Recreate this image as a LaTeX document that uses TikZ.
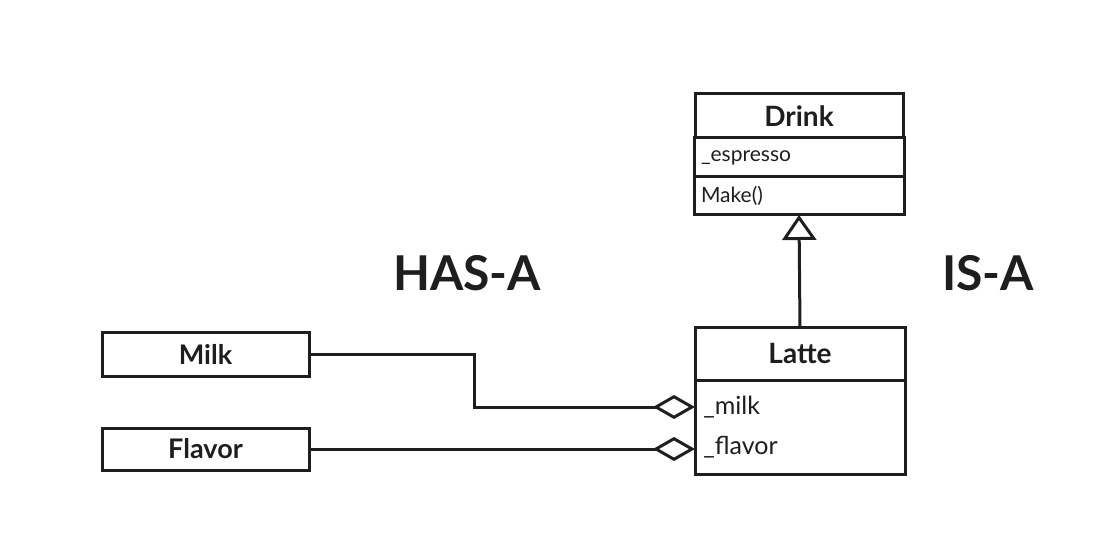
\documentclass[tikz,border=0pt]{standalone}
\usepackage{fontspec}
\setmainfont{Lato}
\usetikzlibrary{arrows.meta,positioning}
\definecolor{umlink}{HTML}{1E1E1E}
\tikzset{
  classtitle/.style={draw=umlink, line width=1.5pt, outer sep=0pt, minimum width=104pt, minimum height=22pt, font=\fontsize{14}{16}\selectfont\bfseries, text=umlink},
  classrow/.style={draw=umlink, line width=1.5pt, outer sep=0pt, text width=98pt, inner xsep=3.5pt, inner ysep=0pt, align=left, font=\fontsize{10.5}{12}\selectfont, text=umlink},
  membertext/.style={anchor=west, inner sep=0pt, font=\fontsize{12.5}{14}\selectfont, text=umlink},
  partbox/.style={draw=umlink, line width=1.5pt, outer sep=0pt, minimum width=103.5pt, minimum height=22pt, font=\fontsize{13.5}{15}\selectfont\bfseries, text=umlink},
  relbig/.style={font=\fontsize{24}{28}\selectfont\bfseries, text=umlink},
  hasarrow/.style={-{Diamond[open, length=21pt, width=12pt]}, line width=1.5pt, draw=umlink},
  isarrow/.style={-{Triangle[open, length=12.5pt, width=17pt]}, line width=1.5pt, draw=umlink}
}

\begin{document}
\begin{tikzpicture}[x=0.5pt, y=-0.5pt]
  \useasboundingbox (0,0) rectangle (1099,540);

  % base class
  \node[classtitle] (drink) at (799,116) {Drink};
  \node[classrow, minimum height=19.5pt, below=0pt of drink] (espresso) {\_espresso};
  \node[classrow, minimum height=19pt, below=0pt of espresso] (make) {Make()};

  % derived class
  \node[classtitle, minimum width=105pt, minimum height=26.5pt] (latte) at (800,353.5) {Latte};
  \node[classrow, text width=98pt, minimum height=47pt, below=0pt of latte] (latteattr) {};
  \node[membertext] (milkattr) at ([xshift=4pt,yshift=-13.5pt]latteattr.north west) {\_milk};
  \node[membertext] (flavorattr) at ([xshift=4pt,yshift=-33.5pt]latteattr.north west) {\_flavor};

  % parts
  \node[partbox] (milk) at (205.5,354) {Milk};
  \node[partbox, minimum height=21pt] (flavor) at (205.5,449) {Flavor};

  \node[relbig] (hasa) at (467,273) {HAS-A};
  \node[relbig] (isa) at (988,273) {IS-A};

  \draw[isarrow] (latte.north) -- (make.south);
  \draw[hasarrow] (milk.east) -- ++(165,0) |- (latteattr.west |- milkattr.west);
  \draw[hasarrow] (flavor.east) -- (flavor.east -| latteattr.west);
\end{tikzpicture}
\end{document}
